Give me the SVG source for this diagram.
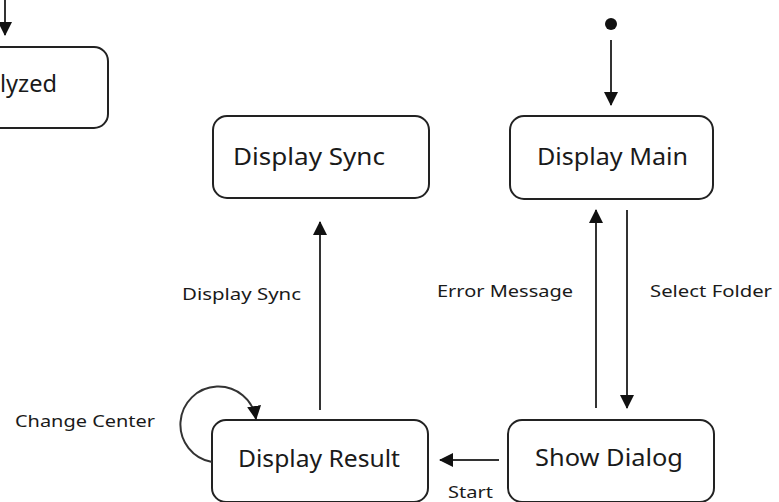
<svg xmlns="http://www.w3.org/2000/svg" width="779" height="502" viewBox="0 0 779 502">
<defs>
<marker id="ah" markerWidth="14" markerHeight="14" viewBox="0 0 14 14" refX="13" refY="7" orient="auto" markerUnits="userSpaceOnUse">
<path d="M0,0 L14,7 L0,14 Z" fill="#111"/>
</marker>
<style>
.box{fill:#fff;stroke:#222;stroke-width:2}
.nt{font-family:"Noto Sans","Open Sans",sans-serif;font-size:23px;fill:#1a1a1a}
.lb{font-family:"Noto Sans","Open Sans",sans-serif;font-size:17px;fill:#1a1a1a}
.ed{fill:none;stroke:#333;stroke-width:2;marker-end:url(#ah)}
</style>
</defs>
<rect width="779" height="502" fill="#fff"/>
<g id="node-analyzed">
<rect class="box" x="-100" y="47" width="208" height="81" rx="14"/>
<text class="nt" x="0" y="92" textLength="57" lengthAdjust="spacingAndGlyphs">lyzed</text>
</g>
<g id="node-display-sync">
<rect class="box" x="213" y="116" width="216" height="82" rx="14"/>
<text class="nt" x="233" y="165" textLength="152" lengthAdjust="spacingAndGlyphs">Display Sync</text>
</g>
<g id="node-display-main">
<rect class="box" x="510" y="116" width="203" height="83" rx="14"/>
<text class="nt" x="537" y="165" textLength="151" lengthAdjust="spacingAndGlyphs">Display Main</text>
</g>
<g id="node-display-result">
<rect class="box" x="212" y="420" width="216" height="82" rx="14"/>
<text class="nt" x="238" y="467" textLength="162" lengthAdjust="spacingAndGlyphs">Display Result</text>
</g>
<g id="node-show-dialog">
<rect class="box" x="508" y="420" width="206" height="82" rx="14"/>
<text class="nt" x="535" y="466" textLength="148" lengthAdjust="spacingAndGlyphs">Show Dialog</text>
</g>
<g id="initial">
<circle cx="611" cy="24" r="6" fill="#111"/>
</g>
<g id="connectors">
<line class="ed" x1="5" y1="0" x2="5" y2="35"/>
<line class="ed" x1="611" y1="40" x2="611" y2="105"/>
<line class="ed" x1="320" y1="410" x2="320" y2="222"/>
<line class="ed" x1="596" y1="408" x2="596" y2="210"/>
<line class="ed" x1="627" y1="210" x2="627" y2="408"/>
<line class="ed" x1="499" y1="460" x2="440" y2="460"/>
<path class="ed" d="M212,462 A38,38 0 1 1 256,419"/>
</g>
<g id="labels">
<text class="lb" x="182" y="300" textLength="119" lengthAdjust="spacingAndGlyphs">Display Sync</text>
<text class="lb" x="437" y="297" textLength="136" lengthAdjust="spacingAndGlyphs">Error Message</text>
<text class="lb" x="650" y="297" textLength="122" lengthAdjust="spacingAndGlyphs">Select Folder</text>
<text class="lb" x="15" y="427" textLength="140" lengthAdjust="spacingAndGlyphs">Change Center</text>
<text class="lb" x="448" y="498" font-size="16" textLength="45" lengthAdjust="spacingAndGlyphs">Start</text>
</g>
</svg>
